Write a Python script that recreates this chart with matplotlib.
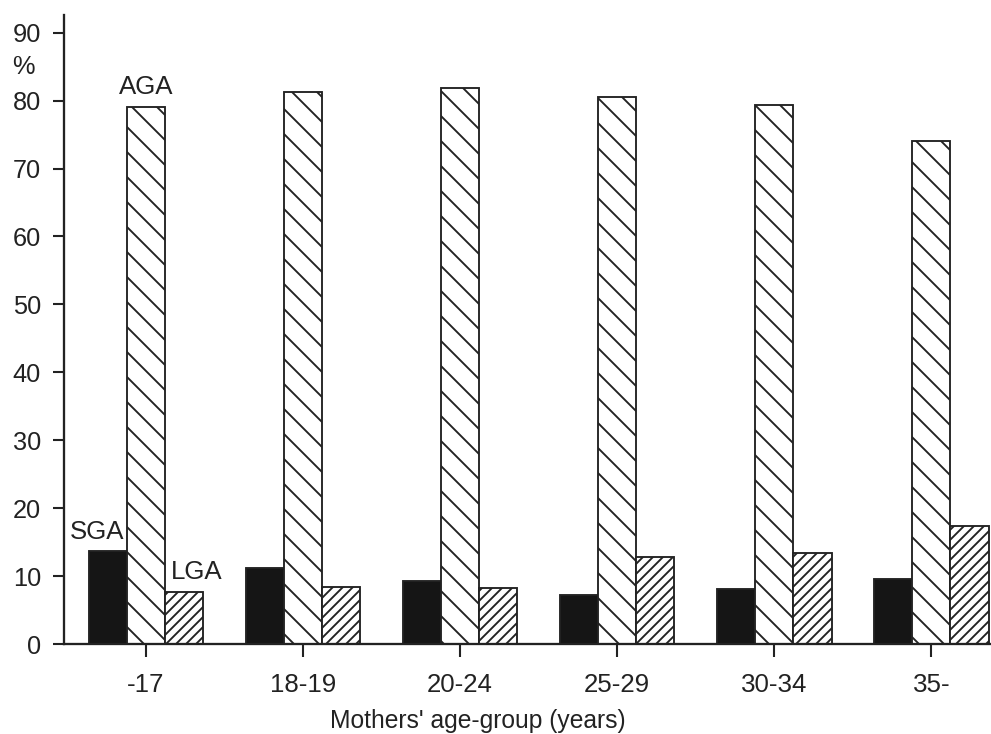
import matplotlib
matplotlib.use("Agg")
import matplotlib.pyplot as plt
import numpy as np

categories = ["-17", "18-19", "20-24", "25-29", "30-34", "35-"]
sga = [13.7, 11.2, 9.3, 7.2, 8.1, 9.6]
aga = [79.0, 81.2, 81.9, 80.6, 79.4, 74.1]
lga = [7.6, 8.4, 8.2, 12.8, 13.4, 17.4]
yticks = [0, 10, 20, 30, 40, 50, 60, 70, 80, 90]

DPI = 150
plt.rcParams['font.family'] = ['Liberation Sans', 'DejaVu Sans']
plt.rcParams['hatch.linewidth'] = 0.9
plt.rcParams['hatch.color'] = '#222222'

fig = plt.figure(figsize=(991 / DPI, 734 / DPI), dpi=DPI)
ax = fig.add_axes([64 / 991, 90 / 734, 1 - 64 / 991, (644 - 15) / 734])

x = np.arange(len(categories))
w = 0.243
ec = '#222222'
ax.bar(x - w, sga, width=w, color='#151515', edgecolor=ec, linewidth=0.9)
ax.bar(x, aga, width=w, color='white', edgecolor=ec, linewidth=0.9, hatch='\\\\')
ax.bar(x + w, lga, width=w, color='white', edgecolor=ec, linewidth=0.9, hatch='/////')

ax.set_xlim(-0.522, 5.38)
ax.set_ylim(0, 92.6)
ax.set_yticks(yticks)
ax.set_yticklabels([str(v) for v in yticks], fontsize=12.2, color='#222222')
ax.set_xticks(x)
ax.set_xticklabels(categories, fontsize=12.4, color='#222222')

for s in ['top', 'right']:
    ax.spines[s].set_visible(False)
for s in ['left', 'bottom']:
    ax.spines[s].set_linewidth(1.1)
    ax.spines[s].set_color('#222222')
ax.tick_params(axis='y', length=5.5, width=1.0, pad=5.5, color='#222222')
ax.tick_params(axis='x', length=6, width=1.0, pad=8, color='#222222')

# series labels
ax.text(0, aga[0] + 1.2, "AGA", ha='center', va='bottom', fontsize=12.4, color='#222222')
ax.text(-w - 0.07, sga[0] + 1.0, "SGA", ha='center', va='bottom', fontsize=12.4, color='#222222')
ax.text(w + 0.08, lga[0] + 1.2, "LGA", ha='center', va='bottom', fontsize=12.4, color='#222222')

fig.text(23 / 991, 1 - 67 / 734, "%", ha='center', va='center', fontsize=12.2, color='#222222')
fig.text(478 / 991, 1 - 721 / 734, "Mothers' age-group (years)", ha='center', va='center',
         fontsize=11.8, color='#222222')

fig.savefig("out.png", dpi=DPI, facecolor='white')
